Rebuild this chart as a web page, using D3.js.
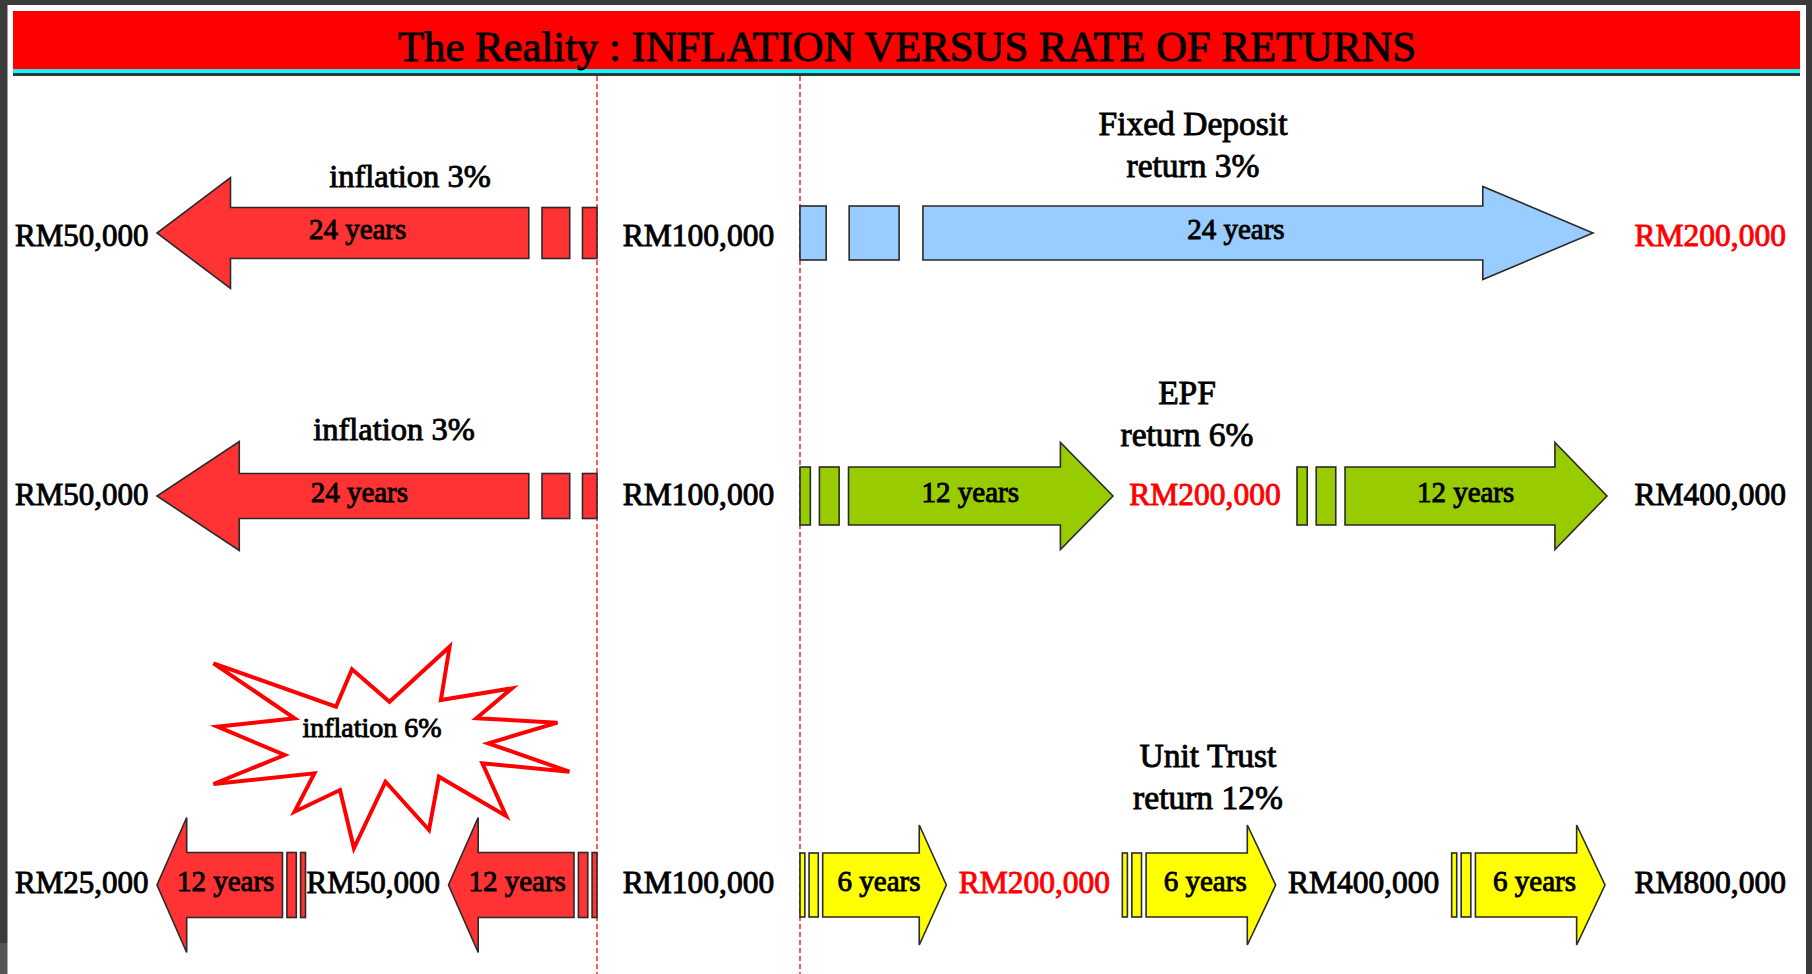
<!DOCTYPE html>
<html><head><meta charset="utf-8">
<script src="https://cdn.jsdelivr.net/npm/d3@7"></script>
<style>
html,body{margin:0;padding:0;background:#3b3b3b;overflow:hidden}
svg{display:block}
text{font-family:"Liberation Serif","Times New Roman",serif}
</style></head><body>
<svg id="chart" width="1812" height="974"></svg>
<script>
// ---------------- data ----------------
const chartTitle = "The Reality : INFLATION VERSUS RATE OF RETURNS";
const rowNames = ["Fixed Deposit", "EPF", "Unit Trust"];
const returnRates = [3, 6, 12];
const inflationRates = [3, 3, 6];
const returnAmounts = [
  [100000, 200000],
  [100000, 200000, 400000],
  [100000, 200000, 400000, 800000]
];
const returnYears = [[24], [12, 12], [6, 6, 6]];
const inflationAmounts = [
  [100000, 50000],
  [100000, 50000],
  [100000, 50000, 25000]
];
const inflationYears = [[24], [24], [12, 12]];
const highlightAmount = 200000;

// ---------------- layout / style ----------------
const W = 1812, H = 974;
const leftDivider = 597, rightDivider = 800;
const leftEdge = 14, rightEdge = 1788;
const rowY = d3.scaleOrdinal().domain(rowNames).range([233, 496, 885]);
const labelDy = [13, 9, 8];
const tipGap = [195, 181, 183];
const tailShift = [0, 3, -7];
const inflTip = 143;
const rightFill = ["#99CCFF", "#99CC00", "#FFFF00"];
const leftFill = "#FF3333";
const arrowStyle = {
  left: [
    {shaftH: 51, headH: 111, headFrac: 0.167},
    {shaftH: 45, headH: 109, headFrac: 0.187},
    {shaftH: 65, headH: 135, headFrac: 0.2}
  ],
  right: [
    {shaftH: 54, headH: 93, headFrac: 0.139},
    {shaftH: 58, headH: 107, headFrac: 0.168},
    {shaftH: 64, headH: 120, headFrac: 0.185}
  ]
};
const headerX = [1193, 1187, 1208];
const headerBase = [134.5, 404, 767];
const inflHeaderX = [410, 394];
const inflHeaderBase = [187, 440];
const burstCenter = [389, 748];
const burstShape = [[-175.5,-84.7],[-53,-41.3],[-37,-78.7],[0.5,-46.3],[60.6,-101.3],[51.9,-48],
  [123,-59.7],[87.5,-29.7],[168.5,-25.3],[99.3,-4.7],[180.4,23.7],[93.4,15.3],[117.1,68],
  [49.9,28.7],[40,82],[-3.5,33.7],[-35.1,100.3],[-49,42],[-94.4,63.7],[-74.6,25.3],
  [-175.5,36],[-104.3,7],[-171.5,-21.3],[-94.4,-29.7]];
const textStroke = 0.9;

const fmt = v => "RM" + d3.format(",")(v);
const svg = d3.select("#chart");

// frame
svg.append("rect").attr("x", 0).attr("y", 0).attr("width", W).attr("height", H).attr("fill", "#3b3b3b");
svg.append("rect").attr("x", 0).attr("y", 943).attr("width", 8).attr("height", 31).attr("fill", "#555");
svg.append("rect").attr("x", 7.5).attr("y", 5).attr("width", 1806 - 7.5).attr("height", H - 5).attr("fill", "#fff");

// title bar
svg.append("rect").attr("x", 13).attr("y", 11).attr("width", 1800 - 13).attr("height", 58.5).attr("fill", "#FF0000");
svg.append("rect").attr("x", 13).attr("y", 69.5).attr("width", 1800 - 13).attr("height", 3.5).attr("fill", "#00FFFF");
svg.append("rect").attr("x", 13).attr("y", 73).attr("width", 1800 - 13).attr("height", 3).attr("fill", "#2c3a3a");
svg.append("text").attr("x", 907).attr("y", 61).attr("text-anchor", "middle")
  .attr("font-size", 42.5).attr("fill", "#000").attr("stroke", "#000").attr("stroke-width", textStroke)
  .attr("textLength", 1018).attr("lengthAdjust", "spacingAndGlyphs")
  .text(chartTitle);

// dividers
[leftDivider, rightDivider].forEach(x => {
  svg.append("line").attr("x1", x).attr("x2", x).attr("y1", 76).attr("y2", H)
    .attr("stroke", "#FF0000").attr("stroke-width", 1.3).attr("stroke-dasharray", "5,3");
});

function label(g, x, y, txt, size, anchor, color) {
  return g.append("text").attr("x", x).attr("y", y).attr("text-anchor", anchor)
    .attr("font-size", size).attr("fill", color).attr("stroke", color).attr("stroke-width", textStroke)
    .text(txt);
}

function drawArrow(g, tail, tip, cy, st, fill, txt) {
  const dir = Math.sign(tip - tail), L = Math.abs(tip - tail);
  const at = f => tail + dir * f * L;
  const hs = st.shaftH / 2, hh = st.headH / 2;
  const pieces = [[0, 0.033], [0.062, 0.125]];
  g.selectAll(null).data(pieces).enter().append("rect")
    .attr("x", d => Math.min(at(d[0]), at(d[1])))
    .attr("width", d => Math.abs(at(d[1]) - at(d[0])))
    .attr("y", cy - hs).attr("height", st.shaftH)
    .attr("fill", fill).attr("stroke", "#2a2a2a").attr("stroke-width", 1.6);
  const hb = at(1 - st.headFrac), s0 = at(0.155);
  const pts = [[s0, cy - hs], [hb, cy - hs], [hb, cy - hh], [tip, cy], [hb, cy + hh], [hb, cy + hs], [s0, cy + hs]];
  g.append("path").attr("d", d3.line()(pts) + "Z")
    .attr("fill", fill).attr("stroke", "#2a2a2a").attr("stroke-width", 1.6).attr("stroke-linejoin", "miter");
  const tx = (s0 + hb) / 2 + dir * 0.3 * st.headFrac * L;
  label(g, tx, cy + 6, txt, 29, "middle", "#000");
}

rowNames.forEach((name, r) => {
  const cy = rowY(name);
  const g = svg.append("g");
  // ---- returns (right side)
  const ra = returnAmounts[r], nR = ra.length - 1;
  const xRet = d3.scaleLinear().domain([0, nR]).range([rightDivider, rightEdge]);
  const tips = [], tails = [];
  d3.range(nR).forEach(k => {
    const tail = xRet(k) + (k > 0 ? tailShift[r] : 0);
    const tip = xRet(k + 1) - tipGap[r];
    tips.push(tip); tails.push(tail);
    drawArrow(g, tail, tip, cy, arrowStyle.right[r], rightFill[r], returnYears[r][k] + " years");
  });
  label(g, (leftDivider + rightDivider) / 2, cy + labelDy[r], fmt(ra[0]), 31.5, "middle", "#000");
  d3.range(1, nR + 1).forEach(k => {
    const col = ra[k] === highlightAmount ? "#FF0000" : "#000";
    if (k < nR) {
      label(g, (tips[k - 1] + tails[k]) / 2, cy + labelDy[r], fmt(ra[k]), 31.5, "middle", col);
    } else {
      label(g, xRet(k) - 2, cy + labelDy[r], fmt(ra[k]), 31.5, "end", col);
    }
  });
  label(g, headerX[r], headerBase[r], name, 33.5, "middle", "#000");
  label(g, headerX[r], headerBase[r] + 42, "return " + returnRates[r] + "%", 33.5, "middle", "#000");

  // ---- inflation (left side)
  const ia = inflationAmounts[r], nI = ia.length - 1;
  const xInf = d3.scaleLinear().domain([0, nI]).range([leftDivider, leftEdge]);
  d3.range(nI).forEach(k => {
    drawArrow(g, xInf(k), xInf(k + 1) + inflTip, cy, arrowStyle.left[r], leftFill, inflationYears[r][k] + " years");
    label(g, xInf(k + 1) + 1, cy + labelDy[r], fmt(ia[k + 1]), 31, "start", "#000");
  });
  if (r < 2) {
    label(g, inflHeaderX[r], inflHeaderBase[r], "inflation " + inflationRates[r] + "%", 32.5, "middle", "#000");
  } else {
    const pts = burstShape.map(p => [burstCenter[0] + p[0], burstCenter[1] + p[1]]);
    g.append("path").attr("d", d3.line()(pts) + "Z")
      .attr("fill", "#fff").attr("stroke", "#FF0000").attr("stroke-width", 4).attr("stroke-linejoin", "miter");
    label(g, 372, 737, "inflation " + inflationRates[r] + "%", 28, "middle", "#000");
  }
});
</script>
</body></html>
